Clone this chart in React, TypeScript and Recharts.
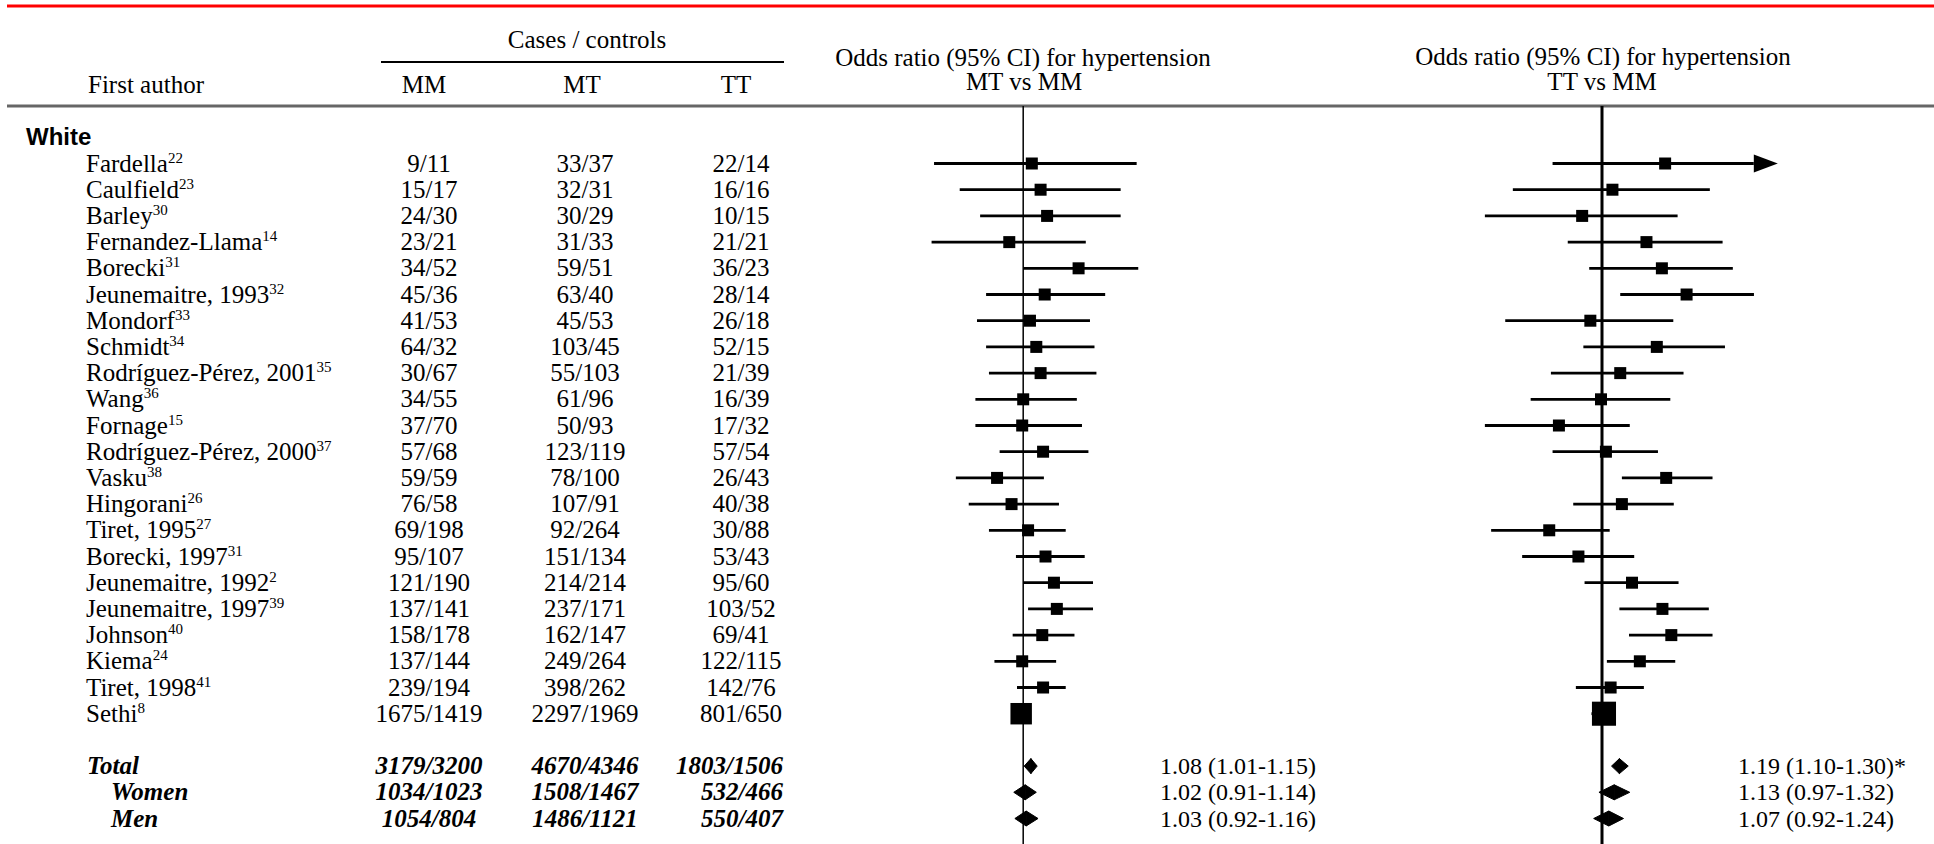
import React from "react";
import { ScatterChart, Scatter, XAxis, YAxis, ReferenceLine } from "recharts";

const SERIF = "'Liberation Serif', 'Times New Roman', Times, serif";
const SANS = "'Liberation Sans', Arial, sans-serif";

const groupLabel = "White";

const authors = [
  "Fardella", "Caulfield", "Barley", "Fernandez-Llama", "Borecki",
  "Jeunemaitre, 1993", "Mondorf", "Schmidt", "Rodríguez-Pérez, 2001", "Wang",
  "Fornage", "Rodríguez-Pérez, 2000", "Vasku", "Hingorani", "Tiret, 1995",
  "Borecki, 1997", "Jeunemaitre, 1992", "Jeunemaitre, 1997", "Johnson", "Kiema",
  "Tiret, 1998", "Sethi",
];
const refs = [
  "22", "23", "30", "14", "31", "32", "33", "34", "35", "36", "15",
  "37", "38", "26", "27", "31", "2", "39", "40", "24", "41", "8",
];

// cases / controls by genotype
const mm = [
  "9/11", "15/17", "24/30", "23/21", "34/52", "45/36", "41/53", "64/32", "30/67", "34/55", "37/70",
  "57/68", "59/59", "76/58", "69/198", "95/107", "121/190", "137/141", "158/178", "137/144", "239/194", "1675/1419",
];
const mt = [
  "33/37", "32/31", "30/29", "31/33", "59/51", "63/40", "45/53", "103/45", "55/103", "61/96", "50/93",
  "123/119", "78/100", "107/91", "92/264", "151/134", "214/214", "237/171", "162/147", "249/264", "398/262", "2297/1969",
];
const tt = [
  "22/14", "16/16", "10/15", "21/21", "36/23", "28/14", "26/18", "52/15", "21/39", "16/39", "17/32",
  "57/54", "26/43", "40/38", "30/88", "53/43", "95/60", "103/52", "69/41", "122/115", "142/76", "801/650",
];

const totalLabels = ["Total", "Women", "Men"];
const totalMM = ["3179/3200", "1034/1023", "1054/804"];
const totalMT = ["4670/4346", "1508/1467", "1486/1121"];
const totalTT = ["1803/1506", "532/466", "550/407"];

// odds ratios: MT vs MM
const orMT = [1.09, 1.19, 1.27, 0.87, 1.74, 1.24, 1.07, 1.14, 1.19, 1.0, 0.99, 1.22, 0.77, 0.89, 1.05, 1.25, 1.36, 1.4, 1.21, 0.99, 1.22, 0.98];
const loMT = [0.41, 0.53, 0.65, 0.4, 1.0, 0.69, 0.63, 0.69, 0.71, 0.62, 0.62, 0.79, 0.51, 0.58, 0.71, 0.93, 1.0, 1.05, 0.9, 0.75, 0.94, 0.9];
const hiMT = [3.11, 2.65, 2.65, 1.87, 3.16, 2.27, 1.95, 2.04, 2.08, 1.71, 1.8, 1.92, 1.23, 1.43, 1.53, 1.85, 2.01, 2.01, 1.67, 1.39, 1.53, 1.08];

// TT vs MM
const orTT = [1.88, 1.11, 0.82, 1.56, 1.82, 2.33, 0.89, 1.73, 1.2, 0.99, 0.65, 1.04, 1.9, 1.22, 0.59, 0.79, 1.35, 1.83, 2.0, 1.46, 1.09, 1.02];
const loTT = [0.61, 0.41, 0.31, 0.71, 0.88, 1.2, 0.38, 0.83, 0.6, 0.49, 0.31, 0.61, 1.22, 0.75, 0.33, 0.45, 0.84, 1.19, 1.31, 1.05, 0.77, 0.9];
const hiTT = [5.8, 2.94, 2.13, 3.34, 3.7, 4.57, 2.04, 3.42, 2.26, 1.98, 1.32, 1.75, 3.02, 2.05, 1.08, 1.38, 2.15, 2.91, 3.02, 2.08, 1.52, 1.15];

// pooled estimates
const sumMT = [1.08, 1.02, 1.03];
const sumLoMT = [1.01, 0.91, 0.92];
const sumHiMT = [1.15, 1.14, 1.16];
const sumTT = [1.19, 1.13, 1.07];
const sumLoTT = [1.1, 0.97, 0.92];
const sumHiTT = [1.3, 1.32, 1.24];
const sumNoteTT = ["*", "", ""];

const firstTotalRow = authors.length + 1;
const rowTicks = [-1, ...authors.map((_, i) => i), ...totalLabels.map((_, k) => firstTotalRow + k)];
const Y_DOMAIN: [number, number] = [-2.195, 25.973];
const ARROW_FROM = 5.5;

const count = (s: string) => s.split("/").reduce((a, b) => a + Number(b), 0);
const fmt = (v: number) => v.toFixed(2);

const studiesMT = authors.map((_, i) => ({ or: orMT[i], row: i, n: count(mm[i]) + count(mt[i]) }));
const studiesTT = authors.map((_, i) => ({ or: orTT[i], row: i, n: count(mm[i]) + count(tt[i]) }));
const pooledMT = totalLabels.map((_, k) => ({
  or: sumMT[k], row: firstTotalRow + k,
  label: `${fmt(sumMT[k])} (${fmt(sumLoMT[k])}-${fmt(sumHiMT[k])})`,
}));
const pooledTT = totalLabels.map((_, k) => ({
  or: sumTT[k], row: firstTotalRow + k,
  label: `${fmt(sumTT[k])} (${fmt(sumLoTT[k])}-${fmt(sumHiTT[k])})${sumNoteTT[k]}`,
}));

function TableTick(props: any) {
  const { y, payload } = props;
  const i = payload.value as number;
  const by = y + 8;
  if (i === -1) {
    return (
      <text x={26} y={by} fontFamily={SANS} fontWeight={700} fontSize={24} fill="#000">
        {groupLabel}
      </text>
    );
  }
  if (i < authors.length) {
    return (
      <g fontFamily={SERIF} fontSize={25} fill="#000">
        <text x={86} y={by}>
          {authors[i]}
          <tspan dy={-9} fontSize={15}>{refs[i]}</tspan>
        </text>
        <text x={429} y={by} textAnchor="middle">{mm[i]}</text>
        <text x={585} y={by} textAnchor="middle">{mt[i]}</text>
        <text x={741} y={by} textAnchor="middle">{tt[i]}</text>
      </g>
    );
  }
  const k = i - firstTotalRow;
  return (
    <g fontFamily={SERIF} fontSize={25} fontStyle="italic" fontWeight={700} fill="#000">
      <text x={k === 0 ? 87 : 111} y={by}>{totalLabels[k]}</text>
      <text x={429} y={by} textAnchor="middle">{totalMM[k]}</text>
      <text x={585} y={by} textAnchor="middle">{totalMT[k]}</text>
      <text x={783} y={by} textAnchor="end">{totalTT[k]}</text>
    </g>
  );
}

const squareShape = (k: number) => (p: any) => {
  const s = Math.max(12, Math.sqrt(p.payload.n) / k);
  return <rect x={p.cx - s / 2} y={p.cy - s / 2} width={s} height={s} fill="#000" />;
};

const pooledText = (x: number) => (p: any) => (
  <text x={x} y={p.cy + 8} fontFamily={SERIF} fontSize={24} fill="#000">
    {p.payload.label}
  </text>
);

const H = 7.5;
const leftHalf = (p: any) => (
  <polygon points={`${p.x1},${p.y1} ${p.x2},${p.y2 - H} ${p.x2},${p.y2 + H}`} fill="#000" stroke="#000" strokeWidth={1} />
);
const rightHalf = (p: any) => (
  <polygon points={`${p.x1},${p.y1 - H} ${p.x2},${p.y2} ${p.x1},${p.y1 + H}`} fill="#000" stroke="#000" strokeWidth={1} />
);
const arrowLine = (p: any) => (
  <g>
    <line x1={p.x1} y1={p.y1} x2={p.x2 - 24} y2={p.y2} stroke="#000" strokeWidth={2.8} />
    <polygon points={`${p.x2 - 24},${p.y2 - 9} ${p.x2},${p.y2} ${p.x2 - 24},${p.y2 + 9}`} fill="#000" />
  </g>
);

function ciLines(lo: number[], hi: number[]) {
  return lo.map((l, i) => (
    <ReferenceLine
      key={`ci-${i}`}
      segment={[{ x: l, y: i }, { x: hi[i], y: i }]}
      stroke="#000"
      strokeWidth={2.8}
      shape={hi[i] > ARROW_FROM ? arrowLine : undefined}
    />
  ));
}

function diamonds(or: number[], lo: number[], hi: number[]) {
  return or.flatMap((v, k) => [
    <ReferenceLine key={`dl-${k}`} segment={[{ x: lo[k], y: firstTotalRow + k }, { x: v, y: firstTotalRow + k }]} shape={leftHalf} />,
    <ReferenceLine key={`dr-${k}`} segment={[{ x: v, y: firstTotalRow + k }, { x: hi[k], y: firstTotalRow + k }]} shape={rightHalf} />,
  ]);
}

const abs: React.CSSProperties = { position: "absolute", left: 0, top: 0 };

export default function App() {
  return (
    <div style={{ position: "absolute", left: 0, top: 0, width: 1934, height: 844, background: "#fff", overflow: "hidden" }}>
      <svg width={1934} height={844} style={abs} fontFamily={SERIF} fontSize={25} fill="#000">
        <line x1={7} x2={1934} y1={6} y2={6} stroke="#ff0000" strokeWidth={3} />
        <text x={587} y={48} textAnchor="middle">Cases / controls</text>
        <line x1={381} x2={784} y1={62} y2={62} stroke="#000" strokeWidth={2} />
        <text x={88} y={93}>First author</text>
        <text x={424} y={93} textAnchor="middle">MM</text>
        <text x={582} y={93} textAnchor="middle">MT</text>
        <text x={736} y={93} textAnchor="middle">TT</text>
        <text x={1023} y={66} textAnchor="middle">Odds ratio (95% CI) for hypertension</text>
        <text x={1024} y={90} textAnchor="middle">MT vs MM</text>
        <text x={1603} y={65} textAnchor="middle">Odds ratio (95% CI) for hypertension</text>
        <text x={1602} y={90} textAnchor="middle">TT vs MM</text>
        <line x1={7} x2={1934} y1={106} y2={106} stroke="#666" strokeWidth={3} />
      </svg>

      <div style={abs}>
        <ScatterChart width={1400} height={844} margin={{ top: 106, right: 0, bottom: 0, left: 0 }}>
          <XAxis type="number" dataKey="or" scale="log" domain={[0.2917, 43.3]} allowDataOverflow hide />
          <YAxis
            type="number"
            dataKey="row"
            domain={Y_DOMAIN}
            reversed
            allowDataOverflow
            ticks={rowTicks}
            interval={0}
            width={900}
            axisLine={false}
            tickLine={false}
            tick={(p: any) => <TableTick {...p} />}
          />
          <ReferenceLine x={1} stroke="#000" strokeWidth={1.5} />
          {ciLines(loMT, hiMT)}
          {diamonds(sumMT, sumLoMT, sumHiMT)}
          <Scatter data={studiesMT} shape={squareShape(4)} isAnimationActive={false} />
          <Scatter data={pooledMT} shape={pooledText(1160)} isAnimationActive={false} />
        </ScatterChart>
      </div>

      <div style={abs}>
        <ScatterChart width={1934} height={844} margin={{ top: 106, right: 0, bottom: 0, left: 1440 }}>
          <XAxis type="number" dataKey="or" scale="log" domain={[0.1979, 27.66]} allowDataOverflow hide />
          <YAxis type="number" dataKey="row" domain={Y_DOMAIN} reversed allowDataOverflow hide width={0} />
          <ReferenceLine x={1} stroke="#000" strokeWidth={3} />
          {ciLines(loTT, hiTT)}
          {diamonds(sumTT, sumLoTT, sumHiTT)}
          <Scatter data={studiesTT} shape={squareShape(2.8)} isAnimationActive={false} />
          <Scatter data={pooledTT} shape={pooledText(1738)} isAnimationActive={false} />
        </ScatterChart>
      </div>
    </div>
  );
}
